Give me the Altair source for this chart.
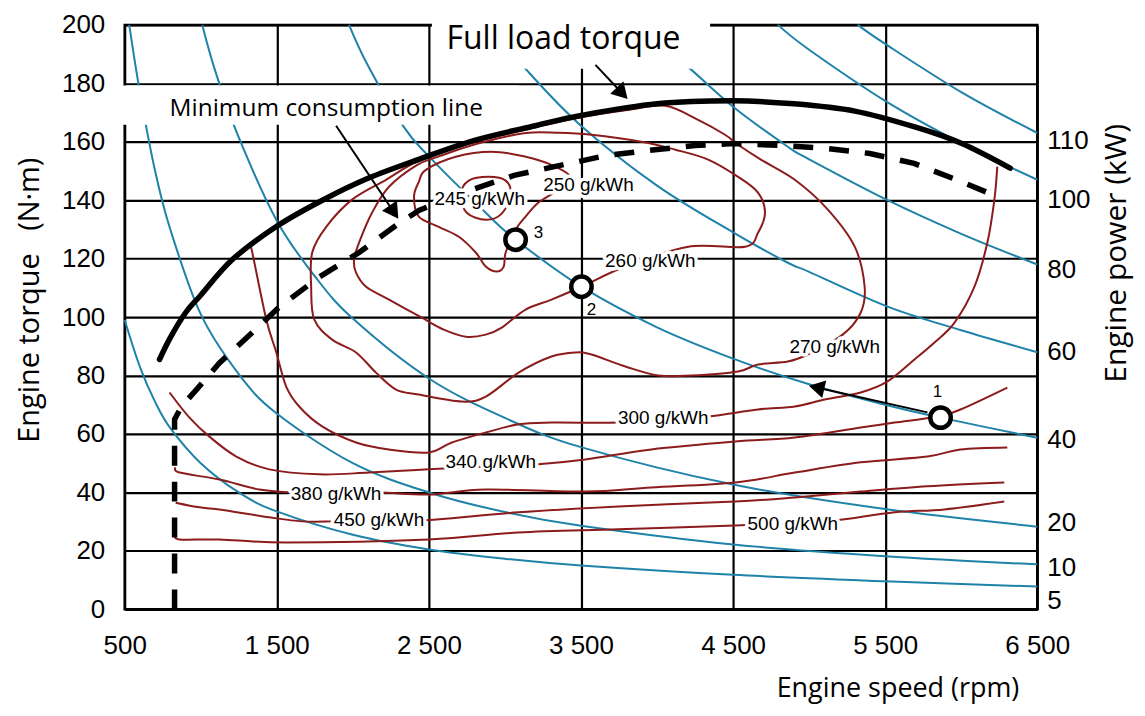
import json
import altair as alt
import pandas as pd

# ---------------- axes ----------------
X_TICKS = [500, 1500, 2500, 3500, 4500, 5500, 6500]
X_TICK_LABELS = ["500", "1 500", "2 500", "3 500", "4 500", "5 500", "6 500"]
Y_TICKS = [0, 20, 40, 60, 80, 100, 120, 140, 160, 180, 200]

POWER_LABELS = ["110", "100", "80", "60", "40", "20", "10", "5"]
POWER_LABEL_TORQUE = [160.3, 140.2, 116.2, 88.2, 58.1, 29.4, 14.0, 2.7]

# ---------------- iso-power curves (kW) ----------------
P5_RPM = [500, 600, 700, 800, 1000, 1250, 1500, 2000, 2500, 3000, 3500, 4500, 5500, 6500]
P5_TQ = [99, 83, 71, 62, 50, 40, 33.5, 25.5, 20.5, 17.3, 15, 11.8, 9.6, 7.8]
P10_RPM = [530, 600, 700, 800, 1000, 1250, 1500, 2000, 2500, 3000, 3500, 4500, 5500, 6500]
P10_TQ = [200, 177, 150, 130, 101, 80.5, 67, 50, 40, 33.3, 28.6, 22.2, 18.2, 15.4]
P20_RPM = [1010, 1100, 1250, 1500, 1750, 2000, 2500, 3000, 3500, 4500, 5500, 6500]
P20_TQ = [200, 183.5, 161.5, 133, 114, 99.5, 79, 65.5, 55.5, 42.7, 34.3, 28.3]
P40_RPM = [1975, 2100, 2336, 2500, 2874, 3070, 3503, 4000, 4500, 5000, 5500, 5864, 6500]
P40_TQ = [200, 186, 165, 155, 135.7, 126.5, 110.4, 96.5, 85.8, 77, 70, 65.6, 58.7]
P60_RPM = [2900, 3142, 3500, 4000, 4500, 4860, 5000, 5516, 6000, 6500]
P60_TQ = [200, 184.6, 165.5, 145, 129, 118.6, 115.5, 103.6, 95.5, 88]
P80_RPM = [3850, 4173, 4500, 4860, 5000, 5516, 6000, 6500]
P80_TQ = [200, 187, 172, 158.3, 154, 140, 128.5, 118]
P100_RPM = [4795, 5000, 5500, 6000, 6500]
P100_TQ = [200, 191.5, 174, 159.5, 147]
P110_RPM = [5320, 5500, 6000, 6500]
P110_TQ = [200, 193.5, 177, 163]

# ---------------- BSFC contours (g/kWh) ----------------
C245_RPM = [2710, 2762, 2893, 3005, 3038, 2979, 2874, 2749]
C245_TQ = [141.9, 146.7, 148.0, 146.7, 141.9, 135.4, 133.3, 135.7]
C250_RPM = [2434, 2480, 2677, 2913, 3136, 3306, 3431, 3352, 3221, 3136, 3070, 3005,
            2992, 2946, 2874, 2808, 2697, 2565, 2434, 2402]
C250_TQ = [146.3, 150.4, 154.9, 156.6, 154.9, 152.1, 148.0, 143.6, 139.2, 134.4, 129.9, 122.1,
           117.3, 115.6, 117.3, 122.1, 127.5, 130.9, 134.4, 141.2]
C260_RPM = [2421, 2238, 2126, 2041, 2008, 2021, 2087, 2238, 2454, 2598, 2743, 2874, 2979,
            3136, 3306, 3503, 3792, 4205, 4579, 4664, 4710, 4664, 4533, 4336, 4120, 3897,
            3569, 3352, 3136, 2828, 2565]
C260_TQ = [152.0, 144.6, 135.7, 125.5, 119.7, 115.2, 110.4, 106.0, 99.8, 95.7, 93.3, 94.0, 96.4,
           102.6, 106.0, 110.4, 117.3, 124.1, 124.1, 128.9, 135.7, 142.6, 148.0, 153.9, 157.3, 160.0,
           162.4, 163.1, 163.0, 159.5, 155.0]
C270_RPM = [2434, 2762, 3090, 3483, 3811, 4054, 4270, 4447, 4533, 4683, 4906, 5123, 5300,
            5365, 5339, 5221, 4991, 4860, 4664, 4533, 4224, 4008, 3792, 3569, 3464, 3306,
            3090, 2874, 2716, 2434, 2284, 2152, 2021, 1864, 1746, 1726, 1733, 1825, 1995, 2218]
C270_TQ = [153.5, 159.4, 163.6, 168.2, 170.9, 172.3, 167.5, 162.4, 159.0, 153.9, 147.0, 136.8, 124.1,
           110.4, 101.5, 94.0, 87.2, 84.8, 83.8, 81.4, 80.0, 80.0, 83.1, 87.2, 87.9, 86.5,
           81.0, 72.8, 71.1, 73.5, 75.2, 81.0, 87.9, 92.3, 99.2, 110.4, 122.1, 130.9, 140.2, 147.0]
C300_RPM = [1325, 1339, 1431, 1497, 1562, 1647, 1798, 2021, 2238, 2500, 2651, 2874, 3090, 3306,
            3746, 4041, 4336, 4664, 4906, 5103, 5339, 5516, 5693, 5824, 5956, 6087, 6172, 6218, 6237]
C300_TQ = [124.5, 122.1, 99.2, 87.9, 76.2, 69.4, 62.6, 57.1, 54.7, 53.7, 57.1, 60.5, 63.3, 63.9,
           63.9, 65.0, 66.0, 68.4, 69.4, 71.8, 74.2, 78.0, 85.5, 91.3, 98.1, 110.4, 125.5, 140.2, 151.5]
C340_RPM = [795, 926, 1057, 1234, 1451, 1779, 2106, 2500, 2913, 3201, 3529, 3962, 4513, 4906,
            5339, 5562, 5844, 5995, 6303]
C340_TQ = [74.2, 65.6, 59.1, 52.3, 47.9, 46.2, 46.8, 47.9, 49.0, 49.6, 51.3, 54.7, 57.4, 58.8,
           62.2, 63.9, 66.0, 68.4, 75.9]
C380_RPM = [835, 861, 1123, 1385, 1602, 1890, 2172, 2500, 2874, 3529, 3962, 4513, 4906, 5339,
            5778, 5995, 6303]
C380_TQ = [48.5, 46.8, 44.4, 41.0, 40.0, 39.7, 40.0, 39.3, 41.0, 40.3, 41.7, 43.4, 46.8, 50.3,
           52.3, 54.7, 55.4]
C450_RPM = [835, 992, 1123, 1451, 1667, 1890, 2172, 2454, 3090, 3746, 4513, 4906, 5339, 5778, 6283]
C450_TQ = [36.5, 34.9, 34.2, 31.5, 30.1, 30.1, 30.3, 30.4, 33.2, 35.2, 36.9, 38.3, 40.3, 42.1, 43.4]
C500_RPM = [835, 861, 1123, 1562, 2500, 3090, 3746, 4513, 4893, 5175, 5562, 5890, 6283]
C500_TQ = [25.5, 23.9, 23.9, 22.9, 23.9, 26.3, 27.4, 28.7, 29.5, 30.4, 33.2, 34.2, 36.9]

BSFC_LABELS = ["245 g/kWh", "250 g/kWh", "260 g/kWh", "270 g/kWh", "300 g/kWh",
               "340 g/kWh", "380 g/kWh", "450 g/kWh", "500 g/kWh"]
BSFC_LABEL_RPM = [2834, 3549, 3956, 5168, 4041, 2907, 1890, 2172, 4893]
BSFC_LABEL_TQ = [140.5, 145.3, 119.3, 89.9, 65.3, 50.3, 39.3, 30.4, 29.1]

# ---------------- full load torque & minimum consumption line ----------------
FL_RPM = [729, 800, 900, 1000, 1208, 1497, 1800, 2100, 2434, 2800, 3200, 3500, 4000, 4500,
          4900, 5300, 5700, 6000, 6322]
FL_TQ = [85.5, 93, 101.5, 107.5, 119.7, 131, 140, 147.5, 154, 160.5, 165.5, 169, 173, 174,
         173, 170.5, 165, 159.5, 151]
MC_RPM = [828, 828, 874, 972, 1123, 1339, 1516, 1779, 2041, 2284, 2434, 2750, 3060, 3370, 3667,
          3940, 4250, 4500, 4830, 5120, 5400, 5690, 5970, 6220]
MC_TQ = [0, 65, 69.4, 75.2, 84.3, 94.7, 103.4, 113.7, 122.1, 131.4, 136.5, 143, 148.5, 152, 155.3,
         157, 158.7, 159.4, 158.7, 157.7, 156, 152.6, 147, 141.6]

# ---------------- operating points ----------------
PT_LABELS = ["1", "2", "3"]
PT_RPM = [5864, 3503, 3070]
PT_TQ = [65.6, 110.4, 126.5]
PT_NUM_RPM = [5844, 3569, 3221]
PT_NUM_TQ = [74.5, 102.6, 128.9]

# ---------------- annotations ----------------
BOX_RPM0 = [2520, 480]
BOX_RPM1 = [4349, 3090]
BOX_TQ0 = [185.0, 165.8]
BOX_TQ1 = [206.0, 179.3]
NOTE_TEXT = ["Full load torque", "Minimum consumption line"]
NOTE_RPM = [3385, 1825]
NOTE_TQ = [195.0, 171.2]
NOTE_SIZE = [32, 24.5]

ARROW_ID = ["min", "min", "full", "full", "p1", "p1"]
ARROW_RPM = [1890, 2270, 3595, 3771, 5778, 5049]
ARROW_TQ = [165.5, 135.9, 186.3, 176.6, 67.4, 75.9]
HEAD_RPM = [2270, 3771, 5049]
HEAD_TQ = [135.9, 176.6, 75.9]
HEAD_ANGLE = [55.6, 46.7, 192.9]

BLUE = "#1f82a8"
RED = "#8c1c1c"
SANS = "Liberation Sans, Arial, sans-serif"
TITLE_FONT = "Open Sans, Liberation Sans, sans-serif"
NARROW = "Liberation Sans Narrow, Arial Narrow, Liberation Sans, sans-serif"
W, H = 915, 586


def frame(name, xs, ys):
    return pd.DataFrame({"curve": name, "rpm": xs, "torque": ys, "i": list(range(len(xs)))})


blue_df = pd.concat([
    frame("5", P5_RPM, P5_TQ), frame("10", P10_RPM, P10_TQ), frame("20", P20_RPM, P20_TQ),
    frame("40", P40_RPM, P40_TQ), frame("60", P60_RPM, P60_TQ), frame("80", P80_RPM, P80_TQ),
    frame("100", P100_RPM, P100_TQ), frame("110", P110_RPM, P110_TQ)])
red_closed_df = pd.concat([
    frame("245", C245_RPM, C245_TQ), frame("250", C250_RPM, C250_TQ),
    frame("260", C260_RPM, C260_TQ), frame("270", C270_RPM, C270_TQ)])
red_open_df = pd.concat([
    frame("300", C300_RPM, C300_TQ), frame("340", C340_RPM, C340_TQ),
    frame("380", C380_RPM, C380_TQ), frame("450", C450_RPM, C450_TQ),
    frame("500", C500_RPM, C500_TQ)])
fl_df = frame("fl", FL_RPM, FL_TQ)
mc_df = frame("mc", MC_RPM, MC_TQ)
lab_df = pd.DataFrame({"rpm": BSFC_LABEL_RPM, "torque": BSFC_LABEL_TQ, "label": BSFC_LABELS})
pt_df = pd.DataFrame({"rpm": PT_RPM, "torque": PT_TQ})
ptn_df = pd.DataFrame({"rpm": PT_NUM_RPM, "torque": PT_NUM_TQ, "label": PT_LABELS})
box_df = pd.DataFrame({"x0": BOX_RPM0, "x1": BOX_RPM1, "y0": BOX_TQ0, "y1": BOX_TQ1})
note_df = pd.DataFrame({"rpm": NOTE_RPM, "torque": NOTE_TQ, "label": NOTE_TEXT, "size": NOTE_SIZE})
arrow_df = pd.DataFrame({"id": ARROW_ID, "rpm": ARROW_RPM, "torque": ARROW_TQ,
                         "i": list(range(len(ARROW_ID)))})
head_df = pd.DataFrame({"rpm": HEAD_RPM, "torque": HEAD_TQ, "ang": HEAD_ANGLE})
pow_df = pd.DataFrame({"torque": POWER_LABEL_TORQUE, "label": POWER_LABELS})

x_label_expr = "%s[indexof(%s, datum.value)]" % (json.dumps(X_TICK_LABELS), json.dumps(X_TICKS))

x_axis = alt.Axis(values=X_TICKS, labelExpr=x_label_expr, title=None, grid=True, ticks=False,
                  domain=False, labelFontSize=26, labelFont=SANS, labelColor="black",
                  labelPadding=23, labelFlush=False, labelOverlap=False,
                  gridColor="black", gridWidth=2.2, gridOpacity=1)
y_axis = alt.Axis(values=Y_TICKS, title=None, grid=True, ticks=False, domain=False,
                  labelFontSize=26, labelFont=SANS, labelColor="black", labelPadding=20,
                  labelFlush=False, labelOverlap=False,
                  gridColor="black", gridWidth=2.2, gridOpacity=1)
x_scale = alt.Scale(domain=[500, 6500], nice=False, zero=False)
y_scale = alt.Scale(domain=[0, 200], nice=False, zero=False)


def X(f="rpm"):
    return alt.X(f"{f}:Q", scale=x_scale, axis=x_axis)


def Y(f="torque"):
    return alt.Y(f"{f}:Q", scale=y_scale, axis=y_axis)


blue = alt.Chart(blue_df).mark_line(color=BLUE, strokeWidth=2, interpolate="cardinal").encode(
    x=X(), y=Y(), detail="curve:N", order="i:Q")
red_open = alt.Chart(red_open_df).mark_line(color=RED, strokeWidth=2, interpolate="cardinal").encode(
    x=X(), y=Y(), detail="curve:N", order="i:Q")
red_closed = alt.Chart(red_closed_df).mark_line(color=RED, strokeWidth=2,
                                                interpolate="cardinal-closed").encode(
    x=X(), y=Y(), detail="curve:N", order="i:Q")
boxes = alt.Chart(box_df).mark_rect(fill="white", opacity=1).encode(
    x=X("x0"), x2="x1:Q", y=Y("y0"), y2="y1:Q")
full_load = alt.Chart(fl_df).mark_line(color="black", strokeWidth=5.5, interpolate="cardinal",
                                       strokeCap="round").encode(x=X(), y=Y(), order="i:Q")
min_cons = alt.Chart(mc_df).mark_line(color="black", strokeWidth=5.5, strokeDash=[20, 16]).encode(
    x=X(), y=Y(), order="i:Q")
arrows = alt.Chart(arrow_df).mark_line(color="black", strokeWidth=2).encode(
    x=X(), y=Y(), detail="id:N", order="i:Q")
heads = alt.Chart(head_df).mark_point(shape="triangle-right", filled=True, size=330, color="black",
                                      opacity=1).encode(
    x=X(), y=Y(), angle=alt.Angle("ang:Q", scale=None))
lab_halo = alt.Chart(lab_df).mark_text(font=NARROW, fontSize=19, stroke="white", strokeWidth=7,
                                       fill="white", strokeJoin="round").encode(
    x=X(), y=Y(), text="label:N")
lab_text = alt.Chart(lab_df).mark_text(font=NARROW, fontSize=19, color="black").encode(
    x=X(), y=Y(), text="label:N")
points = alt.Chart(pt_df).mark_point(shape="circle", size=420, filled=True, fill="white",
                                     stroke="black", strokeWidth=4.5, opacity=1).encode(x=X(), y=Y())
pt_nums = alt.Chart(ptn_df).mark_text(font=SANS, fontSize=17, color="black").encode(
    x=X(), y=Y(), text="label:N")
notes = alt.Chart(note_df).mark_text(font=TITLE_FONT, color="black").encode(
    x=X(), y=Y(), text="label:N", size=alt.Size("size:Q", scale=None, legend=None))
pow_labels = alt.Chart(pow_df).mark_text(font=SANS, fontSize=26, color="black", align="left",
                                         baseline="middle", dx=10).encode(
    x=alt.value(W), y=Y(), text="label:N")

one = pd.DataFrame({"k": [0]})
title_left = alt.Chart(one).mark_text(font=TITLE_FONT, fontSize=29, angle=270, baseline="middle",
                                      color="black").encode(
    x=alt.value(-95), y=alt.value(276),
    text=alt.value("Engine torque\u00a0\u00a0\u00a0(N\u00b7m)"))
title_bottom = alt.Chart(one).mark_text(font=TITLE_FONT, fontSize=27, align="right",
                                        baseline="middle", color="black").encode(
    x=alt.value(897), y=alt.value(666), text=alt.value("Engine speed (rpm)"))
title_right = alt.Chart(one).mark_text(font=TITLE_FONT, fontSize=30, angle=270, baseline="middle",
                                       color="black").encode(
    x=alt.value(995), y=alt.value(229), text=alt.value("Engine power (kW)"))

chart = alt.layer(
    blue, red_open, red_closed, boxes, full_load, min_cons, arrows, heads,
    lab_halo, lab_text, points, pt_nums, notes, pow_labels,
    title_left, title_bottom, title_right,
).properties(
    width=W, height=H,
    padding={"left": 117, "top": 16, "right": 100, "bottom": 100},
    autosize=alt.AutoSizeParams(type="none"),
).configure_view(stroke="black", strokeWidth=2.5)

chart.save("out.html", embed_options={"renderer": "svg", "actions": False})
